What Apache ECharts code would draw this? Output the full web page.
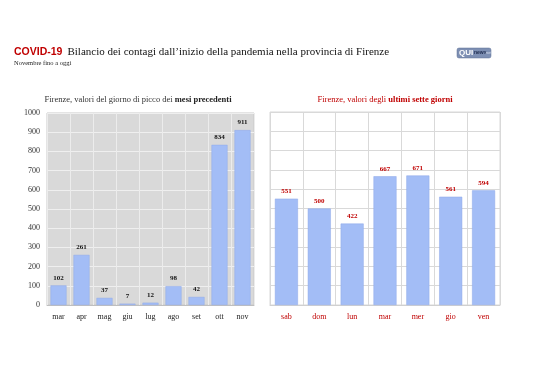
<!DOCTYPE html>
<html><head><meta charset="utf-8">
<script src="https://cdn.jsdelivr.net/npm/echarts@6/dist/echarts.min.js"></script>
<style>html,body{margin:0;padding:0;background:#fff}#c{width:538px;height:380px}</style>
</head><body><div id="c"></div>
<script>
const monthCats = ['mar','apr','mag','giu','lug','ago','set','ott','nov'];
const monthVals = [102,261,37,7,12,98,42,834,911];
const dayCats = ['sab','dom','lun','mar','mer','gio','ven'];
const dayVals = [551,500,422,667,671,561,594];
const yTicks = [0,100,200,300,400,500,600,700,800,900,1000];

const serif = '"Liberation Serif", "DejaVu Serif", serif';
const red = '#c00000';
const barColor = '#a3bdf6';
const barBorder = '#8fa9e8';

const chart = echarts.init(document.getElementById('c'), null, {renderer:'canvas'});
chart.setOption({
  backgroundColor:'#fff',
  animation:false,
  title:[
    {left:14, top:43, padding:0, text:'{a|COVID-19} {b|Bilancio dei contagi dall\u2019inizio della pandemia nella provincia di Firenze}',
     textStyle:{rich:{a:{fontFamily:'"Liberation Sans", sans-serif', fontWeight:'bold', fontSize:10.5, color:red},
                      b:{fontFamily:serif, fontWeight:'normal', fontSize:11, color:'#111'}}}},
    {left:14, top:60, padding:0, text:'Novembre fino a oggi', textStyle:{fontFamily:serif, fontSize:6.5, fontWeight:'normal', color:'#222'}},
    {left:138, top:95, padding:0, textAlign:'center', text:'{n|Firenze, valori del giorno di picco dei }{b|mesi precedenti}',
     textStyle:{rich:{n:{fontFamily:serif, fontWeight:'normal', fontSize:8.5, color:'#333'}, b:{fontFamily:serif, fontSize:8.5, fontWeight:'bold', color:'#222'}}}},
    {left:385, top:95, padding:0, textAlign:'center', text:'{n|Firenze, valori degli }{b|ultimi sette giorni}',
     textStyle:{rich:{n:{fontFamily:serif, fontWeight:'normal', fontSize:8.5, color:red}, b:{fontFamily:serif, fontSize:8.5, fontWeight:'bold', color:red}}}}
  ],
  graphic:[
    {type:'rect', shape:{x:457, y:48, width:34, height:10, r:2}, style:{fill:'#7d8fb3', stroke:'#5f7196', lineWidth:0.5}},
    {type:'text', x:459, y:49, style:{text:'QUI', font:'bold 8px "Liberation Sans", sans-serif', fill:'#fff'}},
    {type:'text', x:474, y:50.5, style:{text:'news', font:'bold 5px "Liberation Sans", sans-serif', fill:'#1d2b4d'}},
    {type:'text', x:485, y:51, style:{text:'.net', font:'4px "Liberation Sans", sans-serif', fill:'#d8e0f0'}}
  ],
  grid:[
    {left:47, top:113, width:207, height:192, show:true, backgroundColor:'#d9d9d9', borderColor:'#c8c8c8', borderWidth:1},
    {left:270, top:112, width:230, height:193, show:true, backgroundColor:'#fff', borderColor:'#d9d9d9', borderWidth:1}
  ],
  xAxis:[
    {type:'category', gridIndex:0, data:monthCats, boundaryGap:true,
     axisLine:{show:true, lineStyle:{color:'#bfbfbf'}}, axisTick:{show:false},
     splitLine:{show:true, lineStyle:{color:'#ececec', width:1}},
     axisLabel:{fontFamily:serif, fontSize:8, color:'#222', margin:8}},
    {type:'category', gridIndex:1, data:dayCats, boundaryGap:true,
     axisLine:{show:true, lineStyle:{color:'#d0d0d0'}}, axisTick:{show:false},
     splitLine:{show:true, lineStyle:{color:'#d9d9d9', width:1}},
     axisLabel:{fontFamily:serif, fontSize:8, color:red, margin:8}}
  ],
  yAxis:[
    {type:'value', gridIndex:0, min:yTicks[0], max:yTicks[yTicks.length-1], interval:100,
     axisLine:{show:false}, axisTick:{show:false},
     splitLine:{lineStyle:{color:'#efefef', width:1}},
     axisLabel:{fontFamily:serif, fontSize:8, color:'#333', margin:7, formatter:v => String(v)}},
    {type:'value', gridIndex:1, min:yTicks[0], max:yTicks[yTicks.length-1], interval:100,
     axisLine:{show:false}, axisTick:{show:false},
     splitLine:{lineStyle:{color:'#d9d9d9', width:1}},
     axisLabel:{show:false}}
  ],
  series:[
    {type:'bar', xAxisIndex:0, yAxisIndex:0, data:monthVals, barWidth:16,
     itemStyle:{color:barColor, borderColor:barBorder, borderWidth:0.5},
     label:{show:true, position:'top', distance:4, fontFamily:serif, fontSize:7, fontWeight:'bold', color:'#111'}},
    {type:'bar', xAxisIndex:1, yAxisIndex:1, data:dayVals, barWidth:23,
     itemStyle:{color:barColor, borderColor:barBorder, borderWidth:0.5},
     label:{show:true, position:'top', distance:4, fontFamily:serif, fontSize:7, fontWeight:'bold', color:red}}
  ]
});
</script></body></html>
